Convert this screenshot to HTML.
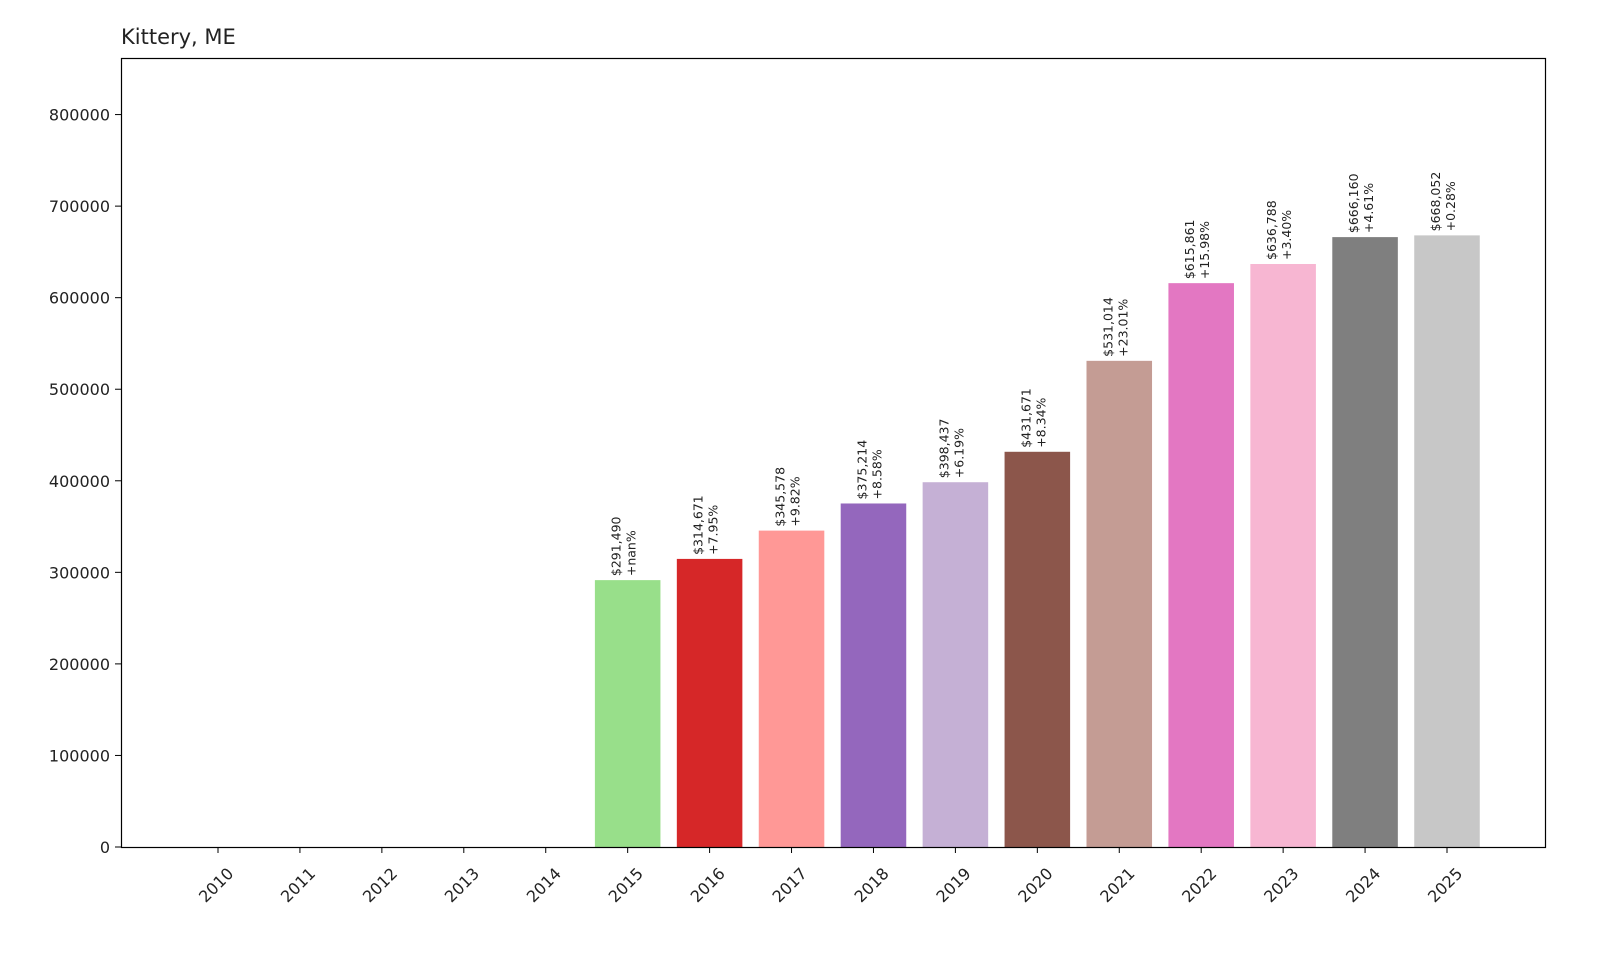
<!DOCTYPE html>
<html><head><meta charset="utf-8"><style>
body{margin:0;background:#fff}
svg{display:block;font-family:"DejaVu Sans","Liberation Sans",sans-serif}
</style></head><body>
<svg id="chart" width="1600" height="960">
<text x="121" y="44" font-size="21" fill="#222">Kittery, ME</text>
<g id="bars"></g>
<g id="yaxis"></g>
<g id="xaxis"></g>
<rect x="121.5" y="58.5" width="1424" height="789" fill="none" stroke="#000" stroke-width="1.2"/>
</svg>
<script>
const years=[2010,2011,2012,2013,2014,2015,2016,2017,2018,2019,2020,2021,2022,2023,2024,2025];
const values=[0,0,0,0,0,291490,314671,345578,375214,398437,431671,531014,615861,636788,666160,668052];
const pctLabels=["","","","","","+nan%","+7.95%","+9.82%","+8.58%","+6.19%","+8.34%","+23.01%","+15.98%","+3.40%","+4.61%","+0.28%"];
const yTicks=[0,100000,200000,300000,400000,500000,600000,700000,800000];
const colors=["#1f77b4","#aec7e8","#ff7f0e","#ffbb78","#2ca02c","#98df8a","#d62728","#ff9896","#9467bd","#c5b0d5","#8c564b","#c49c94","#e377c2","#f7b6d2","#7f7f7f","#c7c7c7"];
const NS="http://www.w3.org/2000/svg";
const L=121,R=1545,T=58,B=847;
const yMax=Math.max(...values)*1.29;
const ys=v=>B-(v/yMax)*(B-T);
const step=(1447-218)/(years.length-1);
const xs=i=>218+i*step;
const bw=step*0.8;
function mk(tag,attrs,parent){const e=document.createElementNS(NS,tag);for(const k in attrs)e.setAttribute(k,attrs[k]);parent.appendChild(e);return e;}
const gb=document.getElementById('bars'),gy=document.getElementById('yaxis'),gx=document.getElementById('xaxis');
values.forEach((v,i)=>{
  const cx=xs(i),top=ys(v);
  const r=mk('rect',{x:cx-bw/2,y:top,width:bw,height:Math.max(B-top,0.8),fill:colors[i]},gb);
  
  
  if(v>0){
    const t=mk('text',{transform:`translate(${cx},${top-4}) rotate(-90)`,'font-size':12.5,fill:'#222'},gb);
    
    
    const a=mk('tspan',{x:0,y:-7},t);a.textContent='$'+v.toLocaleString('en-US');
    const b=mk('tspan',{x:0,y:8},t);b.textContent=pctLabels[i];
  }
  mk('line',{x1:cx,x2:cx,y1:B,y2:B+6,stroke:'#000'},gx);
  const xl=mk('text',{transform:`translate(${cx+2},${B+42}) rotate(-45)`,'text-anchor':'middle','font-size':16,fill:'#222'},gx);
  
  
  xl.textContent=years[i];
});
yTicks.forEach(v=>{
  const y=ys(v);
  mk('line',{x1:L-6,x2:L,y1:y,y2:y,stroke:'#000'},gy);
  const t=mk('text',{x:L-11,y:y+6,'text-anchor':'end','font-size':16,fill:'#222'},gy);
  
  
  t.textContent=v;
});
</script>
</body></html>
